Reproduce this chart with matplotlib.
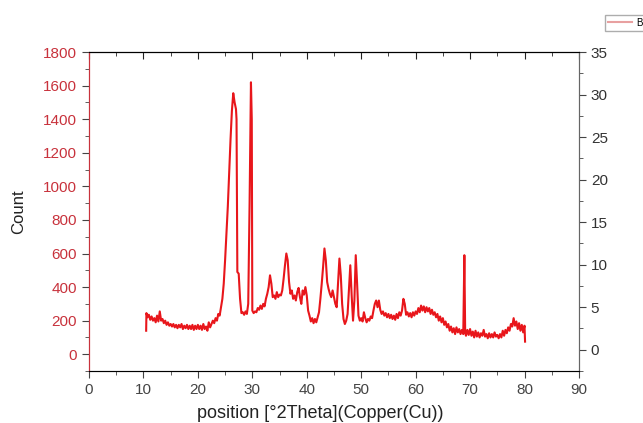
import matplotlib
matplotlib.use("Agg")
import matplotlib.pyplot as plt
from matplotlib.ticker import MultipleLocator

plt.rcParams['font.family'] = ['Liberation Sans', 'DejaVu Sans']

# XRD scan (2theta in degrees, counts)
two_theta = [
    10.5, 10.55, 10.75, 11.0, 11.25, 11.5, 11.75, 12.0, 12.25, 12.5, 12.75, 13.0, 13.25, 13.5, 13.75,
    14.0, 14.25, 14.5, 14.75, 15.0, 15.25, 15.5, 15.75, 16.0, 16.25, 16.5, 16.75, 17.0, 17.25, 17.5, 17.75,
    18.0, 18.25, 18.5, 18.75, 19.0, 19.25, 19.5, 19.75, 20.0, 20.25, 20.5, 20.75, 21.0, 21.25, 21.5, 21.75,
    22.0, 22.25, 22.5, 22.75, 23.0, 23.25, 23.5, 23.75, 24.0, 24.25, 24.5, 24.75, 25.0, 25.25, 25.5, 25.75,
    26.0, 26.25, 26.5, 26.75, 27.0, 27.1, 27.25, 27.5, 27.75, 28.0, 28.25, 28.5, 28.75,
    29.0, 29.25, 29.5, 29.75, 29.9, 30.0, 30.25, 30.5, 30.75, 31.0, 31.25, 31.5, 31.75,
    32.0, 32.25, 32.5, 32.75, 33.0, 33.25, 33.5, 33.75, 34.0, 34.25, 34.5, 34.75, 35.0, 35.25, 35.5, 35.75,
    36.0, 36.25, 36.5, 36.75, 37.0, 37.25, 37.5, 37.75, 38.0, 38.25, 38.5, 38.75, 39.0, 39.25, 39.5, 39.75,
    40.0, 40.25, 40.5, 40.75, 41.0, 41.25, 41.5, 41.75, 42.0, 42.25, 42.5, 42.75, 43.0, 43.25, 43.5, 43.75,
    44.0, 44.25, 44.5, 44.75, 45.0, 45.25, 45.5, 45.75, 46.0, 46.25, 46.5, 46.75, 47.0, 47.25, 47.5, 47.75,
    48.0, 48.25, 48.5, 48.75, 49.0, 49.25, 49.5, 49.75, 50.0, 50.25, 50.5, 50.75, 51.0, 51.25, 51.5, 51.75,
    52.0, 52.25, 52.5, 52.75, 53.0, 53.25, 53.5, 53.75, 54.0, 54.25, 54.5, 54.75, 55.0, 55.25, 55.5, 55.75,
    56.0, 56.25, 56.5, 56.75, 57.0, 57.25, 57.5, 57.75, 58.0, 58.25, 58.5, 58.75, 59.0, 59.25, 59.5, 59.75,
    60.0, 60.25, 60.5, 60.75, 61.0, 61.25, 61.5, 61.75, 62.0, 62.25, 62.5, 62.75, 63.0, 63.25, 63.5, 63.75,
    64.0, 64.25, 64.5, 64.75, 65.0, 65.25, 65.5, 65.75, 66.0, 66.25, 66.5, 66.75, 67.0, 67.25, 67.5, 67.75,
    68.0, 68.25, 68.5, 68.75, 68.95, 69.1, 69.25, 69.5, 69.75, 70.0, 70.25, 70.5, 70.75,
    71.0, 71.25, 71.5, 71.75, 72.0, 72.25, 72.5, 72.75, 73.0, 73.25, 73.5, 73.75, 74.0, 74.25, 74.5, 74.75,
    75.0, 75.25, 75.5, 75.75, 76.0, 76.25, 76.5, 76.75, 77.0, 77.25, 77.5, 77.75, 78.0, 78.25, 78.5, 78.75,
    79.0, 79.25, 79.5, 79.75, 80.0, 80.1,
]
counts = [
    140, 245, 220, 235, 205, 225, 200, 215, 190, 230, 195, 255, 200, 210, 185,
    200, 175, 190, 170, 180, 165, 180, 160, 175, 155, 175, 160, 180, 150, 170, 155,
    175, 150, 170, 150, 175, 145, 170, 150, 175, 150, 170, 145, 180, 150, 165, 140,
    190, 160, 180, 200, 185, 215, 200, 240, 230, 280, 330, 420, 560, 720, 880, 1080,
    1280, 1450, 1555, 1500, 1460, 1400, 490, 480, 330, 245, 250, 235, 255,
    240, 300, 900, 1620, 1400, 260, 245, 255, 250, 275, 265, 290, 270,
    300, 285, 330, 360, 400, 470, 420, 340, 350, 330, 370, 340, 355, 350, 380, 450,
    530, 600, 560, 430, 360, 380, 330, 350, 320, 370, 395, 340, 300, 380, 355, 400,
    350, 260, 230, 195, 215, 185, 210, 190, 220, 250, 330, 420, 520, 630, 560, 430,
    390, 360, 340, 380, 340, 300, 280, 420, 570, 470, 300, 210, 180, 200, 240, 380,
    530, 350, 200, 320, 590, 420, 230, 200, 215, 195, 250, 215, 190, 210, 200, 225,
    215, 260, 300, 320, 280, 320, 265, 240, 255, 230, 245, 220, 240, 215, 235, 210,
    230, 205, 240, 215, 250, 230, 260, 330, 300, 235, 250, 225, 245, 220, 250, 230,
    255, 240, 275, 250, 290, 260, 285, 250, 280, 255, 275, 240, 265, 235, 250, 220,
    240, 200, 225, 190, 215, 175, 195, 160, 180, 140, 165, 130, 155, 120, 160, 130,
    150, 120, 145, 120, 590, 130, 110, 145, 115, 150, 110, 135, 100,
    140, 105, 130, 100, 125, 110, 145, 105, 120, 95, 125, 100, 120, 100, 130, 105,
    115, 95, 120, 100, 140, 110, 145, 125, 160, 140, 180, 165, 215, 170, 195, 150,
    185, 140, 175, 130, 170, 75,
]

x_ticks = [0, 10, 20, 30, 40, 50, 60, 70, 80, 90]
left_ticks = [0, 200, 400, 600, 800, 1000, 1200, 1400, 1600, 1800]
right_ticks = [0, 5, 10, 15, 20, 25, 30, 35]

red_line = '#e8161b'
red_axis = '#c8323c'
grey = '#444444'

fig = plt.figure(figsize=(6.43, 4.23), dpi=100)
ax = fig.add_axes([0.1384, 0.1229, 0.762, 0.754])
ax.plot(two_theta, counts, color=red_line, lw=1.5, label='B')

ax.set_xlim(0, 90)
ax.set_ylim(-100, 1800)
ax.set_xticks(x_ticks)
ax.set_yticks(left_ticks)
ax.xaxis.set_minor_locator(MultipleLocator(5))
ax.yaxis.set_minor_locator(MultipleLocator(100))
ax.tick_params(axis='x', which='both', direction='out', colors=grey, labelsize=11, top=False)
ax.tick_params(axis='x', which='major', length=5)
ax.tick_params(axis='x', which='minor', length=3)
ax.tick_params(axis='y', which='major', direction='out', length=5, color=grey, labelcolor=red_axis, labelsize=11)
ax.tick_params(axis='y', which='minor', direction='out', length=3, color=grey)
ax.spines['left'].set_color(red_axis)
for s in ['top', 'bottom', 'right']:
    ax.spines[s].set_color('#666666')
ax.set_xlabel('position [°2Theta](Copper(Cu))', fontsize=13, color='#222222')
ax.set_ylabel('Count', fontsize=12, color='#222222')
ax.xaxis.set_label_coords(0.471, -0.105)
ax.yaxis.set_label_coords(-0.128, 0.5)

# top axis ticks pointing inwards
top = ax.secondary_xaxis('top')
top.set_xticks(x_ticks)
top.xaxis.set_minor_locator(MultipleLocator(5))
top.tick_params(which='both', direction='in', labeltop=False, color='#222222')
top.tick_params(which='major', length=5)
top.tick_params(which='minor', length=3)
top.spines['top'].set_color('#666666')

ax2 = ax.twinx()
ax2.set_ylim(-2.5, 35)
ax2.set_yticks(right_ticks)
ax2.yaxis.set_minor_locator(MultipleLocator(2.5))
ax2.tick_params(which='major', direction='out', length=5, color=grey, labelcolor='#333333', labelsize=11)
ax2.tick_params(which='minor', direction='out', length=3, color=grey)
ax2.spines['left'].set_color(red_axis)
ax2.spines['right'].set_color('#666666')

leg = fig.legend(loc='upper left', bbox_to_anchor=(600 / 643, 1 - 10 / 423), fontsize=7,
                 frameon=True, fancybox=False, edgecolor='#999999', handlelength=2.5,
                 borderpad=0.3, handletextpad=0.4)
leg.get_lines()[0].set_color('#e8a0a0')

fig.savefig('out.png', dpi=100)
